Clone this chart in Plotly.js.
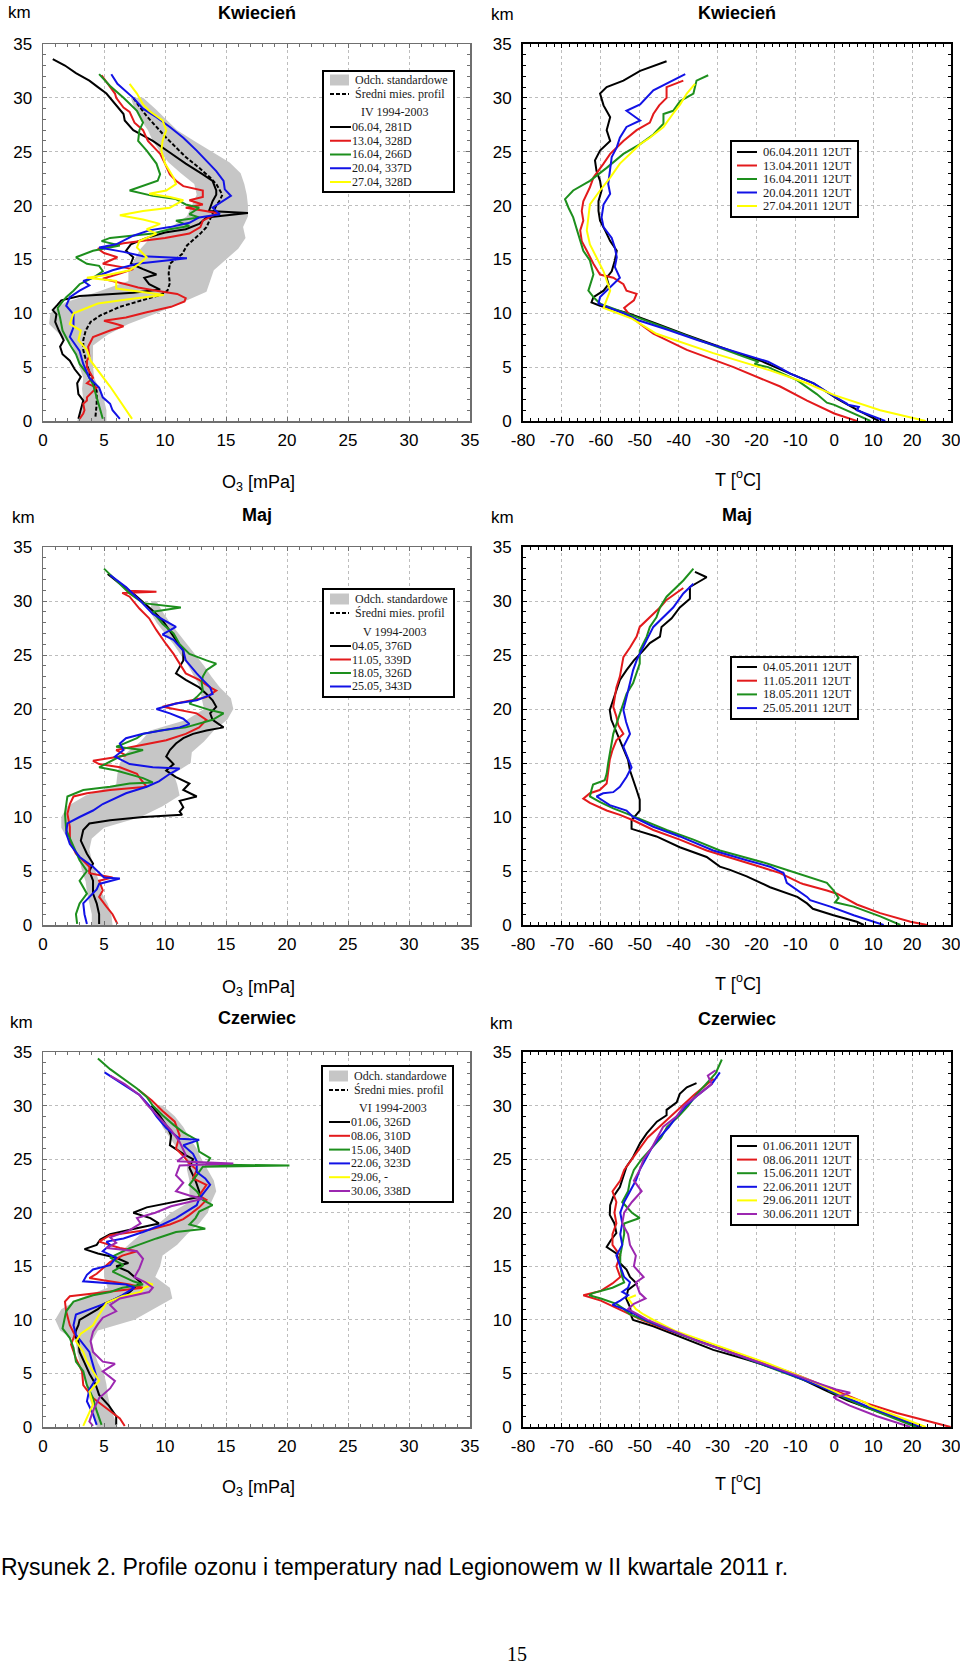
<!DOCTYPE html>
<html><head><meta charset="utf-8">
<script src="https://cdn.plot.ly/plotly-3.0.1.min.js"></script>
<style>html,body{margin:0;padding:0;background:#fff}#chart{width:960px;height:1666px}</style>
</head><body><div id="chart"></div>
<script>
// ================= DATA =================
// pairs are [altitude km, value]
const bandAlt = [0,1,2,3,4,5,6,7,8,9,10,11,12,13,14,15,16,17,18,19,20,21,22,23,24,25,26,27,28,29,30];
const o3Ticks = [0,5,10,15,20,25,30,35];
const kmTicks = [0,5,10,15,20,25,30,35];
const tempTicks = [-80,-70,-60,-50,-40,-30,-20,-10,0,10,20,30];

// ---- April ozone (mPa) ----
const aprBandLo = [2.8,3.2,3.3,3.2,3.3,3.0,2.8,2.4,1.4,0.5,0.6,1.8,4.5,7.0,7.0,7.5,8.0,8.8,10.5,11.8,12.2,12.6,12.4,11.3,10.3,9.6,9.0,8.6,8.0,7.5,7.2];
const aprBandHi = [5.2,5.2,5.0,4.6,4.2,4.1,4.1,4.1,5.3,7.0,9.3,11.4,13.4,13.7,14.0,15.0,16.0,16.6,16.4,16.8,16.8,16.7,16.5,16.2,15.3,13.8,12.4,11.0,10.1,9.2,8.2];
const aprMean = [[0.4,4.3],[1.6,4.4],[2.8,4.4],[4.1,3.9],[5.3,3.6],[6.6,3.3],[7.5,3.3],[8.4,3.5],[9.2,3.9],[9.8,4.7],[10.6,6.3],[11.2,8.0],[11.7,9.6],[12.1,10.2],[12.8,10.4],[13.7,10.3],[14.6,10.4],[15.5,11.4],[16.3,11.8],[17.4,12.9],[18.0,13.4],[19.0,13.8],[20.0,14.2],[20.5,14.5],[21.0,14.7],[22.0,14.2],[22.6,13.7],[23.5,12.8],[24.5,11.7],[25.4,10.9],[26.3,10.1],[27.3,9.3],[28.3,8.5],[29.2,7.9],[30.0,7.4]];
const aprO3_0604 = [[0.2,2.9],[1.0,3.1],[1.9,3.3],[2.5,2.9],[3.5,2.8],[4.1,3.1],[4.8,2.6],[5.6,2.2],[6.2,1.6],[6.9,1.4],[7.5,1.7],[8.4,1.3],[9.2,1.0],[9.9,1.1],[10.3,0.8],[10.8,1.2],[11.2,1.5],[11.6,3.0],[11.9,7.4],[12.2,9.6],[12.7,8.7],[13.3,8.3],[13.6,9.3],[14.1,8.2],[14.6,7.2],[15.2,7.4],[15.8,6.8],[16.4,7.2],[17.0,8.5],[17.5,10.0],[17.8,11.7],[18.3,12.8],[18.9,13.4],[19.3,16.8],[19.5,13.6],[19.8,13.7],[20.4,13.9],[21.0,14.2],[21.4,14.2],[22.0,14.0],[22.3,13.9],[22.9,13.1],[23.9,11.7],[25.0,10.3],[26.0,9.0],[27.0,7.4],[27.9,6.7],[28.5,6.6],[29.4,5.9],[30.4,5.2],[31.0,4.5],[31.6,3.8],[32.3,2.7],[33.0,1.8],[33.6,0.8]];
const aprO3_1304 = [[0.2,3.0],[0.7,3.3],[1.0,3.4],[1.6,3.3],[1.9,3.6],[2.2,3.6],[3.1,4.4],[3.5,3.6],[4.0,4.1],[5.0,3.6],[5.6,3.6],[6.0,3.8],[6.9,3.7],[7.8,4.1],[8.4,5.5],[8.8,6.6],[9.0,6.0],[9.3,5.0],[9.6,6.8],[10.1,8.5],[10.6,10.5],[11.1,11.6],[11.4,11.7],[11.8,11.0],[12.1,9.3],[12.4,7.8],[12.7,6.8],[13.2,4.9],[13.7,6.3],[14.1,7.4],[14.6,4.9],[15.2,6.1],[15.6,5.0],[16.0,4.5],[16.5,6.6],[17.0,10.0],[17.4,12.0],[18.0,12.9],[18.6,13.1],[19.3,14.3],[19.8,11.7],[20.1,13.1],[20.5,12.0],[20.8,13.1],[21.4,13.1],[21.8,11.5],[22.3,10.9],[22.9,10.4],[23.9,10.0],[24.8,9.6],[26.0,8.6],[27.0,8.2],[27.7,7.5],[28.7,7.1],[29.1,6.6],[30.0,6.0],[30.4,5.9],[31.2,5.4],[32.1,4.8]];
const aprO3_1604 = [[0.2,4.9],[1.3,4.6],[2.2,4.4],[3.4,4.1],[4.4,3.6],[5.3,3.0],[6.2,2.7],[7.1,2.2],[8.4,1.6],[9.6,1.4],[10.5,1.2],[11.5,1.9],[12.1,2.5],[12.7,3.0],[13.3,4.1],[13.9,4.9],[14.4,4.6],[14.6,3.6],[15.2,2.7],[15.8,4.1],[16.3,6.3],[16.7,4.8],[17.0,5.5],[17.4,9.0],[17.8,10.4],[18.1,12.0],[18.6,10.9],[18.9,12.8],[19.2,12.0],[19.8,12.8],[20.1,11.7],[20.6,10.9],[20.9,9.0],[21.4,7.1],[21.8,8.2],[22.3,9.4],[22.9,9.6],[23.9,9.3],[25.1,8.5],[26.0,7.8],[27.0,7.9],[27.7,8.2],[28.8,7.7],[30.0,6.6],[31.1,5.5],[32.2,4.6]];
const aprO3_2004 = [[0.2,6.3],[1.0,5.7],[1.6,5.5],[2.2,4.9],[3.1,4.6],[4.0,3.8],[5.3,3.3],[6.5,3.0],[7.8,2.2],[8.7,2.5],[9.9,2.5],[10.7,1.9],[11.5,2.2],[12.1,3.0],[12.6,3.8],[13.0,3.3],[13.3,4.1],[14.0,5.7],[14.6,7.7],[15.1,11.8],[15.3,8.2],[15.7,6.6],[16.1,4.6],[16.4,6.0],[17.2,7.4],[17.7,8.7],[18.0,10.4],[18.4,12.0],[18.9,12.8],[19.2,14.5],[19.8,13.9],[20.5,14.8],[20.9,15.4],[21.5,14.9],[22.3,14.8],[23.2,14.2],[24.2,13.4],[25.1,12.6],[26.3,11.5],[27.3,10.4],[28.2,9.3],[29.0,8.2],[30.0,7.4],[31.3,6.1],[32.2,5.6]];
const aprO3_2704 = [[0.2,7.3],[1.3,6.6],[2.2,6.1],[3.2,5.5],[4.4,4.7],[5.6,3.9],[6.6,3.6],[7.5,2.9],[8.4,3.1],[9.0,2.2],[10.0,2.5],[10.9,4.5],[11.3,7.0],[11.7,9.9],[12.0,8.0],[12.3,6.0],[13.0,6.0],[13.3,3.6],[13.6,5.5],[14.0,7.1],[14.6,7.9],[15.2,8.5],[16.1,7.7],[16.7,7.9],[17.4,9.3],[17.8,8.5],[18.3,9.6],[18.7,8.2],[19.1,6.3],[19.5,8.2],[19.8,10.4],[20.5,11.5],[20.8,10.4],[21.1,8.7],[21.4,10.1],[22.0,10.9],[22.6,10.7],[23.9,10.0],[25.1,9.7],[26.0,9.8],[27.0,10.1],[27.9,9.8],[28.8,8.7],[29.4,8.2],[30.4,7.7],[31.3,7.1]];

// ---- May ozone (mPa) ----
const mayBandLo = [4.0,4.0,3.8,3.6,3.5,3.2,3.0,2.5,2.0,1.5,1.5,2.0,3.5,6.0,6.1,6.3,6.9,8.0,8.8,11.8,13.2,13.0,12.9,12.4,11.9,11.3,10.7,10.0,9.3,8.8,8.9];
const mayBandHi = [5.7,5.6,5.3,4.8,4.6,4.3,4.0,3.8,4.0,5.0,8.0,9.8,11.2,11.0,10.7,12.1,12.2,13.2,14.0,15.1,15.6,15.4,14.5,13.8,13.2,12.5,11.8,11.1,10.4,9.8,9.3];
const mayO3_0405 = [[0.1,4.6],[1.0,4.6],[2.0,4.4],[2.9,4.1],[4.1,4.1],[5.0,3.8],[5.7,4.1],[6.6,3.6],[7.8,3.1],[8.8,3.3],[9.4,3.8],[9.7,5.5],[10.0,8.2],[10.2,11.4],[10.5,11.2],[10.9,11.5],[11.5,11.2],[11.9,12.6],[12.5,11.5],[13.1,12.0],[13.7,10.9],[14.3,10.1],[14.9,10.7],[15.6,10.1],[16.2,10.4],[16.8,10.9],[17.3,11.5],[17.7,12.3],[18.0,13.4],[18.3,14.8],[19.0,13.9],[19.6,13.7],[20.2,14.2],[20.8,13.9],[21.4,13.4],[22.0,12.8],[22.7,11.7],[23.3,10.9],[23.9,11.2],[24.5,11.5],[25.4,11.5],[26.4,10.9],[27.3,10.4],[28.2,9.8],[29.1,9.0],[29.9,8.2],[30.7,7.4],[31.6,6.3],[32.5,5.3]];
const mayO3_1105 = [[0.1,6.1],[1.0,5.7],[1.7,5.2],[2.6,4.6],[3.2,4.9],[4.1,4.6],[4.4,5.7],[4.8,3.8],[5.4,3.8],[6.6,2.7],[7.8,2.2],[9.1,2.2],[10.3,2.0],[11.2,2.2],[11.9,2.5],[12.2,3.6],[12.5,5.5],[12.8,8.5],[13.5,8.0],[14.0,7.7],[14.6,6.3],[14.9,4.6],[15.2,4.1],[15.7,6.8],[16.2,6.0],[16.5,7.4],[17.1,10.1],[17.7,11.7],[18.3,12.8],[19.0,13.4],[19.6,12.6],[20.2,9.8],[20.5,10.9],[21.1,13.4],[21.7,14.2],[22.0,13.7],[22.7,12.8],[23.3,11.7],[24.2,11.2],[25.1,10.7],[26.0,10.1],[27.3,9.3],[28.4,8.7],[29.3,7.9],[30.4,7.1],[30.75,6.5],[30.85,9.3],[30.95,7.0],[31.3,6.8]];
const mayO3_1805 = [[0.1,2.8],[1.0,2.7],[2.0,3.0],[2.9,3.6],[4.1,3.0],[5.0,3.6],[6.0,3.0],[7.2,2.5],[8.8,1.9],[10.3,1.8],[11.2,1.9],[11.9,2.0],[12.5,3.3],[12.8,5.5],[13.1,7.1],[13.2,9.0],[13.6,8.2],[14.3,6.0],[14.6,4.6],[15.6,6.3],[16.2,8.2],[16.5,6.0],[17.3,7.7],[17.7,8.2],[18.0,9.6],[18.3,11.7],[19.0,13.9],[19.6,14.8],[19.9,13.7],[20.5,12.0],[21.1,12.6],[21.7,13.1],[22.5,13.0],[23.0,13.1],[23.6,13.4],[24.2,14.2],[24.5,13.4],[25.1,12.0],[26.0,11.2],[27.0,10.7],[27.9,9.8],[29.0,9.0],[29.4,11.3],[29.8,8.2],[30.7,7.1],[31.9,6.0],[33.0,5.0]];
const mayO3_2505 = [[0.1,3.6],[1.0,3.4],[2.0,3.3],[2.6,3.8],[3.3,4.4],[3.8,4.6],[4.3,6.3],[4.4,5.0],[5.4,4.1],[6.3,3.0],[7.5,2.2],[8.5,1.9],[9.4,2.0],[10.0,3.0],[10.6,4.1],[11.2,4.9],[12.2,6.8],[12.8,8.5],[13.3,9.5],[14.0,10.4],[14.5,11.2],[14.6,9.0],[14.9,7.1],[15.6,5.9],[16.2,6.6],[16.8,6.3],[17.3,6.8],[17.7,8.2],[18.0,9.8],[18.3,11.2],[18.6,12.0],[19.1,11.5],[19.6,10.4],[20.0,9.3],[20.5,10.9],[20.8,12.6],[21.4,13.9],[22.0,13.7],[22.7,13.1],[23.3,12.6],[24.5,11.7],[25.4,11.5],[26.4,10.7],[26.9,9.8],[27.6,10.9],[28.8,9.0],[30.1,7.9],[31.3,6.8],[32.4,5.5]];

// ---- June ozone (mPa) ----
const junBandLo = [4.4,4.2,4.0,3.7,3.5,3.2,3.0,2.8,2.7,1.4,1.0,1.5,3.0,5.3,5.0,5.0,6.0,7.0,8.0,9.5,10.5,12.0,12.0,12.0,11.8,11.8,11.0,10.4,9.8,9.5,9.3];
const junBandHi = [6.1,5.8,5.5,5.3,5.2,5.0,4.5,4.2,4.0,4.5,7.5,9.0,10.6,10.4,9.2,9.6,9.8,11.0,11.8,12.8,13.5,13.8,14.2,14.0,13.5,13.0,12.6,12.0,11.5,10.8,9.8];
const junO3_0106 = [[0.2,6.0],[1.0,6.0],[2.0,5.4],[3.0,4.6],[4.0,4.3],[5.0,3.8],[6.0,3.4],[7.0,3.0],[8.0,2.9],[8.5,2.6],[9.0,2.7],[9.5,2.9],[10.0,3.0],[10.5,3.8],[11.0,4.5],[11.5,5.0],[12.0,6.0],[12.5,7.0],[13.0,7.5],[13.5,8.0],[14.0,7.5],[14.5,7.0],[15.0,6.0],[15.3,7.0],[15.8,6.0],[16.2,4.5],[16.6,3.4],[17.0,4.4],[17.5,4.7],[18.0,5.5],[18.5,7.5],[19.0,9.5],[19.5,8.8],[20.0,7.4],[20.5,8.5],[21.1,11.0],[21.5,12.9],[22.0,12.8],[23.0,12.5],[24.2,12.0],[25.0,12.3],[25.5,11.5],[26.3,10.4],[27.2,10.5],[28.0,10.2],[29.0,9.6],[30.0,8.9]];
const junO3_0806 = [[0.1,6.7],[0.8,6.3],[1.5,5.5],[2.7,4.1],[3.9,3.3],[5.2,3.2],[6.4,2.7],[7.7,2.3],[8.6,2.6],[9.5,2.2],[10.8,1.9],[11.7,1.8],[12.2,2.2],[12.6,5.0],[13.0,8.2],[13.3,7.1],[13.9,3.8],[14.3,4.4],[14.8,4.9],[15.4,5.5],[16.0,6.5],[16.4,7.7],[16.7,6.3],[17.3,4.6],[17.9,5.5],[18.4,8.7],[18.9,10.4],[19.4,11.5],[19.8,12.0],[20.5,12.8],[21.2,13.4],[21.6,12.8],[22.6,13.4],[23.2,12.3],[24.0,12.6],[24.6,12.0],[25.3,11.5],[26.0,10.9],[27.2,11.2],[28.5,10.8],[29.5,9.8],[30.5,8.9],[31.5,7.8]];
const junO3_1506 = [[0.2,4.8],[1.5,4.4],[2.7,4.1],[3.9,3.6],[5.2,3.3],[6.1,2.7],[7.4,2.5],[8.3,2.2],[9.2,1.6],[10.8,1.9],[11.7,2.5],[12.3,4.1],[12.6,5.5],[13.0,6.5],[13.3,8.2],[13.6,7.4],[14.5,5.7],[15.1,6.6],[15.8,5.5],[16.7,7.1],[17.6,9.3],[18.2,10.9],[18.5,13.3],[18.9,12.0],[19.5,12.5],[20.1,12.8],[20.7,13.9],[21.2,13.1],[22.0,12.6],[22.6,12.0],[23.5,12.6],[24.3,13.1],[24.4,20.2],[24.5,13.4],[25.1,13.7],[25.7,12.8],[26.8,12.6],[27.5,11.5],[28.2,10.7],[29.1,9.8],[30.0,9.0],[30.8,8.5],[31.6,7.7],[32.5,6.6],[33.4,5.5],[34.4,4.5]];
const junO3_2206 = [[0.2,4.4],[1.2,4.1],[2.4,3.6],[3.5,3.8],[4.6,4.4],[5.8,4.1],[7.0,3.8],[8.6,2.7],[9.5,2.5],[10.5,2.7],[11.1,4.1],[11.7,5.5],[12.3,6.5],[13.0,7.5],[13.3,6.8],[13.6,3.3],[14.2,3.6],[14.7,4.1],[15.1,5.5],[15.8,6.0],[16.4,4.9],[17.0,5.5],[17.3,5.2],[17.6,6.6],[18.2,8.2],[18.9,9.8],[19.5,10.9],[20.1,11.7],[20.7,12.6],[21.3,12.8],[22.0,13.3],[22.6,13.7],[23.2,13.3],[23.8,12.6],[24.8,12.6],[25.5,12.3],[26.3,11.5],[26.8,12.8],[26.9,11.2],[27.9,10.1],[29.0,9.3],[30.0,8.7],[31.0,7.9],[32.2,6.3],[33.1,5.05]];
const junO3_2906 = [[0.1,3.3],[0.8,3.6],[2.1,4.1],[3.3,3.8],[4.3,4.6],[5.2,4.1],[6.1,3.6],[7.0,3.3],[8.0,2.7],[8.7,3.1],[9.5,4.1],[10.3,4.5],[11.1,4.9],[11.6,5.2],[12.2,6.5],[12.6,8.0],[13.0,8.3],[13.3,9.0],[13.6,8.2]];
const junO3_3006 = [[0.1,4.1],[0.5,3.8],[1.5,4.1],[2.7,4.6],[3.6,5.5],[4.3,5.9],[5.2,4.9],[5.9,5.9],[6.1,4.9],[7.0,4.1],[8.0,3.9],[8.9,4.1],[9.6,4.5],[10.2,4.9],[10.8,6.0],[11.4,5.5],[12.0,6.3],[12.6,8.7],[13.0,9.0],[13.5,8.4],[14.0,7.5],[14.8,7.9],[15.7,8.2],[16.4,7.7],[16.7,5.2],[17.2,6.0],[17.7,5.5],[18.3,7.0],[19.0,8.0],[19.5,7.7],[20.0,9.2],[20.6,10.5],[21.3,13.1],[21.6,12.0],[22.0,10.9],[22.8,11.5],[23.5,10.9],[24.4,11.2],[24.6,15.6],[24.8,11.0],[25.4,11.7],[26.6,11.2],[27.7,10.5],[28.8,9.6],[30.0,8.6],[31.0,7.9],[32.0,6.7],[32.8,5.5]];

// ---- April temperature (deg C) ----
const aprT_0604 = [[0,11.5],[1,6],[2,1],[2.5,-1],[3.5,-5.3],[4.4,-11.3],[5,-15.3],[5.6,-19],[6,-22.5],[7,-30.5],[8,-38],[9,-45.5],[10,-53],[10.7,-60.2],[11,-62.4],[11.5,-61.9],[12.1,-59.3],[12.7,-58],[13.3,-58.5],[13.9,-57.2],[14.9,-56.4],[15.8,-55.9],[16.7,-57.6],[17.7,-58.9],[18.6,-60.2],[19.5,-60.6],[20.4,-60.6],[21.4,-59.8],[22.3,-60.2],[23.2,-61.1],[24.2,-61.5],[25.1,-60.2],[26,-57.6],[27,-58.5],[28.2,-57.6],[29.3,-59.3],[30.4,-60.2],[31,-58.5],[31.6,-54.2],[32.5,-49.9],[33.4,-43.1]];
const aprT_1304 = [[0,5.8],[0.7,0],[1.9,-7],[3.2,-13.9],[5,-25.9],[6.6,-37.9],[8.1,-46.5],[9,-49.9],[9.8,-52.5],[10.5,-54],[10.8,-53],[11.2,-51.5],[11.8,-50.8],[12.1,-53.4],[12.7,-54.2],[13.3,-56.8],[13.6,-60.2],[14.6,-61.9],[15.8,-63.6],[16.7,-64.9],[17.7,-65.3],[18.6,-64.5],[19.5,-64.9],[20.4,-64.5],[21.7,-62.8],[22.6,-61.9],[23.9,-59.3],[24.8,-57.6],[25.4,-55.9],[26,-54.2],[27,-50.8],[27.7,-47.4],[28.5,-46.5],[29.3,-45],[30,-43.1],[31,-43.1],[31.6,-38.8]];
const aprT_1604 = [[0,9.3],[0.7,5],[1.5,0],[1.7,-1.9],[2.5,-4.5],[3.8,-9.6],[5,-17],[5.3,-20.5],[5.5,-19.5],[6,-23.5],[7,-31],[8,-38.5],[9,-46],[10,-53.5],[10.9,-60.2],[11.5,-61.9],[12.1,-63.2],[13.6,-61.9],[14.9,-62.8],[15.8,-64.5],[16.7,-65.3],[17.7,-66.2],[18.9,-67.1],[19.8,-68.3],[20.6,-69.2],[21.4,-67.1],[22.3,-62.8],[23.5,-58.5],[24.8,-54.2],[25.7,-49.9],[26.6,-46.5],[27.6,-43.9],[28.5,-43.9],[28.8,-41.4],[29.7,-39.6],[30.4,-36.2],[31.6,-35.4],[32.1,-32.4]];
const aprT_2004 = [[0,13.1],[1,5.8],[1.3,6.3],[1.5,3.5],[1.6,3.3],[2.5,-1],[3.5,-5.3],[4.4,-11.3],[5,-14.3],[5.5,-17],[6.6,-27],[7.5,-35],[8.5,-43],[9.4,-50.8],[10,-54.2],[10.9,-60.6],[11.5,-60.2],[12.1,-58.5],[12.7,-56.8],[13.3,-55.1],[14.3,-56.4],[15.2,-55.9],[16.1,-56.4],[17,-57.2],[18,-59.3],[18.9,-59.8],[20.1,-59.3],[21.1,-57.6],[22,-58.1],[23.2,-57.6],[24.5,-57.2],[25.4,-55.9],[26.3,-55.1],[27.3,-53.4],[27.9,-49.9],[28.8,-53.4],[29.4,-49.9],[30.7,-46.5],[31.3,-43.1],[32.2,-38.3]];
const aprT_2704 = [[0,23.5],[0.3,20],[1,11.8],[2.4,0],[3.5,-7],[4.7,-16.5],[6.3,-31.1],[8.1,-45.7],[9.5,-52],[10.5,-59.3],[11.2,-58.5],[12.1,-57.6],[13.9,-59.3],[15.2,-61.1],[16.4,-62.8],[17.7,-63.6],[18.9,-63.2],[20.1,-62.8],[21.4,-60.2],[22.6,-57.6],[23.9,-55.1],[25.7,-49.9],[26.3,-47.4],[27.3,-43.9],[28.5,-41.5],[29.4,-39.6],[30.4,-37.9],[31.3,-35.8]];

// ---- May temperature (deg C) ----
const mayT_0405 = [[0,7.6],[0.3,5.8],[0.9,-0.2],[1.5,-5.5],[2.0,-7],[2.6,-9.5],[3.5,-16.5],[4.5,-22.5],[5.1,-26.8],[5.4,-29.4],[6.3,-32.8],[7.2,-39.7],[8.2,-45.7],[8.9,-52.1],[9.2,-52.1],[9.7,-52.1],[10.6,-50],[11.6,-50],[12.5,-50.8],[13.4,-51.7],[14.3,-52.5],[15.3,-53],[16.2,-54],[17.1,-55.1],[18,-56],[19,-57.3],[19.9,-57.7],[20.8,-56.8],[21.7,-56],[22.7,-55.1],[23.6,-53.4],[24.5,-51.5],[25.4,-49.1],[26.1,-47.4],[26.7,-44.8],[27.6,-44.4],[28.4,-41.8],[29.4,-39.7],[30.2,-37.1],[31.3,-37.1],[32.2,-32.8],[32.7,-35.8]];
const mayT_1105 = [[0,23.9],[0.3,19.6],[1.1,11.8],[1.9,5.8],[2.9,0.7],[3.2,-1.9],[3.8,-8],[3.9,-8.8],[4.8,-13.9],[5.4,-19.1],[6.9,-32.8],[7.9,-39.7],[8.8,-46.5],[9.7,-51.7],[10.2,-55.1],[10.6,-58.5],[11.3,-62.8],[11.7,-64.5],[12.2,-62.8],[12.5,-60.3],[13.1,-58.5],[14.3,-58.1],[15.3,-57.7],[16.2,-57],[17.1,-56],[17.7,-54.2],[18.5,-55.5],[19.3,-56],[20.2,-56.8],[21.1,-56.4],[22,-56],[23,-55.1],[23.9,-54.7],[24.8,-54.2],[25.7,-52.5],[26.7,-50.8],[27.6,-50],[28.5,-47.4],[29.4,-44.8],[30.1,-43.1],[31.2,-38.8]];
const mayT_1805 = [[0,17],[0.8,11.8],[1.7,5],[2.1,0.2],[2.5,1.1],[3.2,-0.2],[3.9,-1.9],[4.5,-7],[5.1,-12.2],[5.7,-17.3],[6.3,-23.3],[6.9,-29.4],[7.9,-36.2],[8.8,-43.1],[10.2,-52.5],[10.8,-56.8],[11.4,-60.3],[11.9,-62.8],[12.5,-62.4],[13.0,-62],[13.4,-59],[14,-58.5],[15,-58.1],[15.9,-57.7],[16.8,-57.3],[17.7,-56.8],[18.6,-56],[19.6,-55.1],[20.5,-54.2],[21.4,-53.4],[22.4,-51.7],[23.3,-50.8],[24.2,-50],[25.4,-50],[26.7,-48.2],[27.6,-47.4],[28.5,-45.7],[29.4,-44.8],[30.4,-43.1],[31.9,-38.8],[33,-36.2]];
const mayT_2505 = [[0,12.7],[0.9,5],[1.7,-1],[2.3,-6.2],[2.6,-7],[3.2,-9.5],[3.9,-12.2],[4.8,-13],[5.4,-16.5],[6,-22.5],[6.9,-31.1],[8.2,-39.7],[9.1,-46.5],[10,-51.7],[10.6,-53.4],[11.1,-57.7],[11.9,-61.1],[12.2,-59.4],[12.3,-56.8],[12.8,-55.1],[13.7,-53.4],[14.6,-52.1],[15.5,-53],[16.5,-54.2],[17.7,-52.5],[18.8,-53.5],[19.9,-54.2],[21.1,-53.4],[22.4,-52.5],[23.6,-51.7],[24.5,-50.8],[25.5,-49.5],[26.4,-48.2],[27.6,-46.5],[28.5,-43.9],[29.4,-41.4],[30.7,-38.8],[31.6,-36.2]];

// ---- June temperature (deg C) ----
const junT_0106 = [[0,22],[0.8,16.1],[1.9,7.6],[2.5,3.3],[3.5,-2.7],[4.4,-7.9],[5.3,-13.9],[5.7,-17.3],[6.3,-22.5],[7.2,-31.1],[8.4,-39.7],[9.4,-46.5],[10,-51.7],[10.3,-52.1],[11.2,-52.5],[12,-53.5],[12.8,-53],[13.4,-50.8],[14,-52.5],[14.7,-53.4],[15.3,-55.1],[16.2,-56],[16.8,-58.5],[17.5,-57.3],[18.1,-56],[19,-56.5],[19.8,-57.7],[20.7,-57.6],[21.5,-56.8],[22.4,-55.1],[23.4,-54.2],[24.3,-53.4],[25.2,-51.7],[25.8,-50.8],[26.5,-49.9],[27.4,-48.2],[28.5,-45.6],[29.1,-43.1],[29.6,-43.1],[30.3,-40.5],[31.1,-39.7],[31.7,-37.9],[32.1,-35.4]];
const junT_0806 = [[0,29.9],[0.5,24.7],[1.3,16.1],[2.2,8.4],[3,3],[4.1,-4.5],[5,-10.5],[6,-18.5],[7,-26.5],[8.1,-35.5],[9,-42.5],[10,-49.5],[10.5,-52.5],[11,-55.5],[11.8,-60],[12.3,-64.5],[12.7,-60],[13.4,-57],[14,-55],[15,-56],[16,-55],[17,-57],[18,-57],[19,-56],[20,-56.5],[21,-56],[22,-57],[23,-55],[24,-54],[25,-52],[26,-50],[27,-48],[28,-45],[29,-42],[30,-39],[31,-36],[32.5,-31]];
const junT_1506 = [[0,21],[1,14],[2,7],[3,1],[3.4,-1.5],[3.6,-0.5],[4,-5],[5,-12.5],[6,-19.5],[7,-27],[8,-35],[9,-42],[10,-49],[10.5,-52.5],[11,-54],[11.5,-56],[12,-60],[12.3,-63],[12.5,-62],[13,-57],[13.5,-54],[14,-54.5],[15,-55],[16,-55],[17,-54.5],[18,-54],[19,-54],[19.5,-50],[20,-52],[21,-54.5],[22,-53],[23,-52.5],[24,-51.5],[25,-49.5],[26,-47],[27,-44.5],[28,-43],[29,-40],[30,-37.5],[31,-35.5],[32,-33],[33,-30.5],[34.3,-28.9]];
const junT_2206 = [[0,22.5],[1,15],[2,8],[3,1.5],[4,-5],[5,-12],[6,-19.5],[7,-27],[8,-35],[9,-42],[10,-48.5],[10.5,-51],[11,-54],[11.4,-57],[11.8,-55],[12.3,-53],[12.6,-54.5],[13,-53],[13.5,-52.5],[14,-54],[15,-55],[16,-56],[17,-54.5],[18,-55],[19,-54.5],[20,-55],[21,-54],[22,-52.5],[23,-51],[24,-50],[25,-48.5],[26,-47],[27,-45],[28,-42.5],[29,-40.5],[30,-38],[31,-35],[32,-31.5],[33.1,-29.4]];
const junT_2906 = [[0,23.5],[1,16],[2,9],[2.3,8],[3,2],[4,-4],[5,-10.5],[6,-17.5],[7,-25.5],[8,-33.5],[9,-41],[10,-46.5],[10.5,-49],[11,-51],[11.5,-52],[12,-53],[12.3,-51]];
const junT_3006 = [[0,19.5],[1,11],[2,4],[2.6,0.5],[2.8,-0.2],[3.0,2.5],[3.2,4.1],[3.5,0.5],[4,-3.5],[5,-11],[6,-19],[7,-27],[8,-35],[9,-41.5],[10,-48],[10.5,-50.5],[11,-53],[11.5,-51.5],[12,-48.5],[12.5,-50],[13,-50.5],[13.5,-51],[14,-49],[15,-51.5],[16,-51],[17,-52.5],[18,-53],[19,-54.5],[20,-54],[21,-52],[22,-49.5],[23,-51.5],[24,-50],[25,-49],[26,-47],[27,-45.5],[28,-44],[29,-40.5],[30,-38.5],[31,-35],[32,-31.5],[32.8,-32.5],[33.3,-30.5]];

// ================= STYLE / LAYOUT =================
const W = 960, H = 1666;
const PX = x => x / W, PY = y => 1 - y / H;
const C = {k:'#000000', r:'#e31a1c', g:'#1d8f1d', b:'#1212e6', y:'#ffff00', p:'#9c27b0'};
const BAND = '#c6c6c6';

const panels = [
  {kind:'o3', cols:[43,470], rows:[44,421], title:'Kwiecień', titleY:13, km:[19,13], xtitleY:482,
   band:[aprBandLo, aprBandHi], mean:aprMean,
   series:[['06.04, 281D','k',aprO3_0604],['13.04, 328D','r',aprO3_1304],['16.04, 266D','g',aprO3_1604],['20.04, 337D','b',aprO3_2004],['27.04, 328D','y',aprO3_2704]],
   leg:{box:[323,71,454,192], sw:80, da:94, per:112, perText:'IV 1994-2003', y0:127, dy:13.75}},
  {kind:'t', cols:[523,951], rows:[44,421], title:'Kwiecień', titleY:13, km:[502,15], xtitleY:480,
   series:[['06.04.2011 12UT','k',aprT_0604],['13.04.2011 12UT','r',aprT_1304],['16.04.2011 12UT','g',aprT_1604],['20.04.2011 12UT','b',aprT_2004],['27.04.2011 12UT','y',aprT_2704]],
   leg:{box:[731,141,858,217], y0:152, dy:13.5}},
  {kind:'o3', cols:[43,470], rows:[547,925], title:'Maj', titleY:515, km:[23,517], xtitleY:987,
   band:[mayBandLo, mayBandHi], mean:null,
   series:[['04.05, 376D','k',mayO3_0405],['11.05, 339D','r',mayO3_1105],['18.05, 326D','g',mayO3_1805],['25.05, 343D','b',mayO3_2505]],
   leg:{box:[323,589,454,697], sw:599, da:613, per:632, perText:'V 1994-2003', y0:646, dy:13.5}},
  {kind:'t', cols:[523,951], rows:[547,925], title:'Maj', titleY:515, km:[502,517], xtitleY:984,
   series:[['04.05.2011 12UT','k',mayT_0405],['11.05.2011 12UT','r',mayT_1105],['18.05.2011 12UT','g',mayT_1805],['25.05.2011 12UT','b',mayT_2505]],
   leg:{box:[731,657,858,719], y0:667, dy:13.7}},
  {kind:'o3', cols:[43,470], rows:[1052,1427], title:'Czerwiec', titleY:1018, km:[21,1022], xtitleY:1487,
   band:[junBandLo, junBandHi], mean:null,
   series:[['01.06, 326D','k',junO3_0106],['08.06, 310D','r',junO3_0806],['15.06, 340D','g',junO3_1506],['22.06, 323D','b',junO3_2206],['29.06, -','y',junO3_2906],['30.06, 338D','p',junO3_3006]],
   leg:{box:[322,1066,453,1202], sw:1076, da:1090, per:1108, perText:'VI 1994-2003', y0:1122, dy:13.8}},
  {kind:'t', cols:[523,951], rows:[1052,1427], title:'Czerwiec', titleY:1019, km:[501,1023], xtitleY:1484,
   series:[['01.06.2011 12UT','k',junT_0106],['08.06.2011 12UT','r',junT_0806],['15.06.2011 12UT','g',junT_1506],['22.06.2011 12UT','b',junT_2206],['29.06.2011 12UT','y',junT_2906],['30.06.2011 12UT','p',junT_3006]],
   leg:{box:[731,1136,858,1225], y0:1146, dy:13.6}}
];

const traces = [];
const shapes = [];
const annotations = [];
const layout = {
  width: W, height: H, margin:{l:0,r:0,t:0,b:0},
  paper_bgcolor:'#ffffff', plot_bgcolor:'#ffffff', showlegend:false,
  font:{family:'Liberation Sans', color:'#000'}
};

const sansFont = (s, extra) => Object.assign({family:'Liberation Sans', size:s, color:'#000'}, extra||{});
const serifFont = s => ({family:'Liberation Serif', size:s, color:'#1a1a1a'});
function txt(x, y, text, font, xanchor) {
  annotations.push({xref:'paper', yref:'paper', x:PX(x), y:PY(y), text:text, showarrow:false,
    xanchor:xanchor||'center', yanchor:'middle', font:font, borderpad:0});
}
function hline(x0, x1, y, color, width, dash) {
  shapes.push({type:'line', xref:'paper', yref:'paper', x0:PX(x0), x1:PX(x1), y0:PY(y), y1:PY(y),
    line:{color:color, width:width, dash:dash||'solid'}, layer:'above'});
}

panels.forEach((p, i) => {
  const sfx = i === 0 ? '' : String(i + 1);
  const xa = 'x' + sfx, ya = 'y' + sfx;
  const isO3 = p.kind === 'o3';
  const lineCol = isO3 ? '#6f6f6f' : '#000000';
  const common = {
    showline:true, linecolor:lineCol, linewidth:isO3 ? 1.5 : 2, mirror:'ticks',
    ticks:'inside', ticklen:4, tickwidth:1, tickcolor:lineCol,
    showgrid:true, gridcolor:'#bdbdbd', griddash:'dot', gridwidth:1,
    zeroline:false, fixedrange:true, tickmode:'array', ticklabeloverflow:'allow',
    tickfont:sansFont(17)
  };
  layout['xaxis' + sfx] = Object.assign({}, common, {
    domain:[PX(p.cols[0]), PX(p.cols[1])], anchor:ya,
    range: isO3 ? [0,35] : [-80,30],
    tickvals: isO3 ? o3Ticks : tempTicks,
    ticktext: (isO3 ? o3Ticks : tempTicks).map(String),
    minor:{ticks:'inside', ticklen:3, tickcolor:lineCol, dtick: isO3 ? 1 : 2, tick0:0, showgrid:false},
    ticklabelstandoff:3
  });
  layout['yaxis' + sfx] = Object.assign({}, common, {
    domain:[PY(p.rows[1]), PY(p.rows[0])], anchor:xa,
    range:[0,35], tickvals:kmTicks, ticktext:kmTicks.map(String),
    minor:{ticks:'inside', ticklen:3, tickcolor:lineCol, dtick:1, tick0:0, showgrid:false},
    ticklabelstandoff:6
  });

  if (p.band) {
    const lo = p.band[0], hi = p.band[1];
    traces.push({x: lo.concat(hi.slice().reverse()), y: bandAlt.concat(bandAlt.slice().reverse()),
      xaxis:xa, yaxis:ya, mode:'lines', fill:'toself', fillcolor:BAND, line:{width:0, color:BAND}, hoverinfo:'skip'});
  }
  if (p.mean) {
    traces.push({x:p.mean.map(d => d[1]), y:p.mean.map(d => d[0]), xaxis:xa, yaxis:ya, mode:'lines',
      line:{color:'#000', width:2, dash:'4px,2px'}, name:'Średni mies. profil'});
  }
  p.series.forEach(s => {
    traces.push({x:s[2].map(d => d[1]), y:s[2].map(d => d[0]), xaxis:xa, yaxis:ya, mode:'lines',
      name:s[0], line:{color:C[s[1]], width:2}});
  });

  // titles and axis labels (sub/superscripts as separate small texts)
  const cx = (p.cols[0] + p.cols[1]) / 2;
  txt(cx, p.titleY, p.title, sansFont(18, {weight:'bold'}));
  txt(p.km[0], p.km[1], 'km', sansFont(17));
  if (isO3) {
    const x0 = cx - 36;
    txt(x0, p.xtitleY, 'O', sansFont(18), 'left');
    txt(x0 + 14, p.xtitleY + 5, '3', sansFont(12.5), 'left');
    txt(x0 + 26, p.xtitleY, '[mPa]', sansFont(18), 'left');
  } else {
    const x0 = cx - 23;
    txt(x0, p.xtitleY, 'T [', sansFont(18), 'left');
    txt(x0 + 21, p.xtitleY - 6, 'o', sansFont(12.5), 'left');
    txt(x0 + 28, p.xtitleY, 'C]', sansFont(18), 'left');
  }

  // legend box
  const L = p.leg, b = L.box;
  shapes.push({type:'rect', xref:'paper', yref:'paper', x0:PX(b[0]), x1:PX(b[2]), y0:PY(b[3]), y1:PY(b[1]),
    line:{color:'#000', width:2}, fillcolor:'#ffffff', layer:'above'});
  if (isO3) {
    shapes.push({type:'rect', xref:'paper', yref:'paper', x0:PX(b[0]+7), x1:PX(b[0]+26), y0:PY(L.sw+5.5), y1:PY(L.sw-5.5),
      line:{width:0}, fillcolor:BAND, layer:'above'});
    txt(b[0]+31, L.sw, 'Odch. standardowe', serifFont(12), 'left');
    hline(b[0]+7, b[0]+26, L.da, '#000', 2, '4px,2px');
    txt(b[0]+31, L.da, 'Średni mies. profil', serifFont(12), 'left');
    txt(b[0]+71, L.per, L.perText, serifFont(12));
    p.series.forEach((s, j) => {
      const y = L.y0 + j * L.dy;
      hline(b[0]+7, b[0]+28, y, C[s[1]], 2);
      txt(b[0]+28, y, s[0], serifFont(12), 'left');
    });
  } else {
    p.series.forEach((s, j) => {
      const y = L.y0 + j * L.dy;
      hline(b[0]+6, b[0]+26, y, C[s[1]], 2);
      txt(b[0]+31, y, s[0], serifFont(12.5), 'left');
    });
  }
});

txt(0, 1567, 'Rysunek 2. Profile ozonu i temperatury nad Legionowem w II kwartale 2011 r.', sansFont(23), 'left');
txt(517, 1654, '15', {family:'Liberation Serif', size:20, color:'#000'});

layout.shapes = shapes;
layout.annotations = annotations;
Plotly.newPlot('chart', traces, layout, {staticPlot:true, displayModeBar:false});
</script>
</body></html>
